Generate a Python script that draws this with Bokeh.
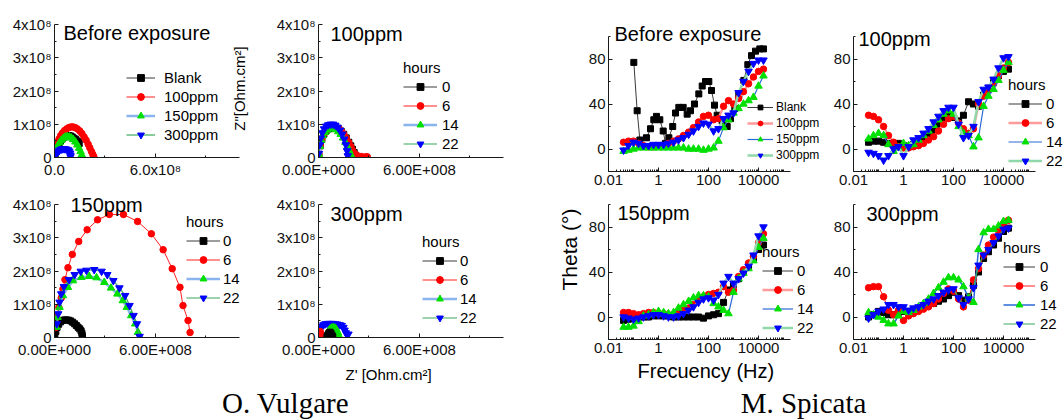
import numpy as np
from bokeh.plotting import figure
from bokeh.layouts import row, column
from bokeh.models import (FixedTicker, Legend, LegendItem, Label, Range1d, Title,
                          CustomJSTickFormatter)
from bokeh.embed import file_html
from bokeh.resources import INLINE
from bokeh.core.properties import value

FONT = "Liberation Sans"
SERIF = "Liberation Serif"

# ---------------- labels / ticks ----------------
CONC = ["Blank", "100ppm", "150ppm", "300ppm"]
HOURS = ["0", "6", "14", "22"]
CAPTIONS = ["O. Vulgare", "M. Spicata"]
NYQ_Y_TICKS = [0, 1e8, 2e8, 3e8, 4e8]
NYQ_Y_LABELS = ["0", "1x10\u2078", "2x10\u2078", "3x10\u2078", "4x10\u2078"]
NYQ_X_TICKS = [0, 6e8]
NYQ_X_LABELS_A = ["0.0", "6.0x10\u2078"]
NYQ_X_LABELS = ["0.00E+000", "6.00E+008"]
BODE_X_TICKS = [0.01, 1, 100, 10000]
BODE_X_LABELS = ["0.01", "1", "100", "10000"]
BODE_Y_TICKS = [0, 40, 80]

# ---------------- Nyquist data (units of 1e8 Ohm.cm2) ----------------
A_BLANK_ZR = [0.02, 0.05, 0.10, 0.15, 0.20, 0.27, 0.35, 0.45, 0.55, 0.65, 0.75, 0.85, 0.95, 1.05, 1.15, 1.25, 1.35, 1.42, 1.47]
A_BLANK_ZI = [0.05, 0.12, 0.20, 0.28, 0.35, 0.42, 0.50, 0.56, 0.60, 0.63, 0.65, 0.66, 0.65, 0.62, 0.58, 0.55, 0.50, 0.46, 0.42]
A_100_ZR = [0.00, 0.05, 0.10, 0.18, 0.27, 0.37, 0.48, 0.60, 0.72, 0.85, 0.98, 1.10, 1.23, 1.36, 1.50, 1.63, 1.76, 1.88, 2.00, 2.10, 2.20, 2.28, 2.34]
A_100_ZI = [0.15, 0.25, 0.35, 0.46, 0.56, 0.66, 0.74, 0.81, 0.86, 0.90, 0.92, 0.92, 0.90, 0.86, 0.80, 0.72, 0.62, 0.52, 0.40, 0.29, 0.18, 0.09, 0.02]
A_150_ZR = [0.02, 0.06, 0.12, 0.20, 0.30, 0.40, 0.52, 0.64, 0.76, 0.88, 1.00, 1.12, 1.24, 1.36, 1.46, 1.55, 1.62, 1.65]
A_150_ZI = [0.06, 0.16, 0.26, 0.36, 0.45, 0.52, 0.58, 0.62, 0.63, 0.62, 0.59, 0.54, 0.47, 0.38, 0.28, 0.18, 0.08, 0.01]
A_300_ZR = [0.03, 0.08, 0.15, 0.22, 0.30, 0.40, 0.50, 0.60, 0.70, 0.80, 0.88, 0.93, 0.95, 0.95]
A_300_ZI = [0.03, 0.09, 0.14, 0.18, 0.22, 0.25, 0.26, 0.26, 0.25, 0.23, 0.19, 0.13, 0.07, 0.02]

B_0_ZR = [0.02, 0.10, 0.20, 0.32, 0.45, 0.60, 0.75, 0.90, 1.05, 1.20, 1.35, 1.50, 1.65, 1.80, 1.92, 2.02, 2.12, 2.20, 2.26]
B_0_ZI = [0.10, 0.35, 0.55, 0.70, 0.80, 0.86, 0.89, 0.90, 0.89, 0.85, 0.79, 0.70, 0.59, 0.46, 0.35, 0.25, 0.15, 0.07, 0.02]
B_6_ZR = [0.02, 0.10, 0.20, 0.32, 0.45, 0.60, 0.75, 0.90, 1.05, 1.20, 1.35, 1.50, 1.65, 1.80, 1.92, 2.02, 2.15, 2.30, 2.55, 2.80, 2.90]
B_6_ZI = [0.10, 0.36, 0.56, 0.72, 0.82, 0.88, 0.91, 0.92, 0.91, 0.87, 0.80, 0.70, 0.58, 0.45, 0.33, 0.22, 0.12, 0.06, 0.03, 0.02, 0.02]
B_14_ZR = [0.02, 0.08, 0.16, 0.26, 0.38, 0.50, 0.63, 0.76, 0.90, 1.04, 1.18, 1.32, 1.46, 1.60, 1.72, 1.83, 1.92, 1.96]
B_14_ZI = [0.10, 0.34, 0.52, 0.66, 0.76, 0.83, 0.87, 0.88, 0.87, 0.84, 0.78, 0.70, 0.59, 0.46, 0.33, 0.20, 0.09, 0.02]
B_22_ZR = [0.02, 0.07, 0.14, 0.23, 0.33, 0.45, 0.58, 0.72, 0.86, 1.00, 1.14, 1.28, 1.41, 1.53, 1.63, 1.70, 1.74]
B_22_ZI = [0.12, 0.38, 0.58, 0.74, 0.86, 0.94, 0.98, 1.00, 1.00, 0.97, 0.91, 0.82, 0.70, 0.55, 0.38, 0.20, 0.05]

C_0_ZR = [0.02, 0.08, 0.15, 0.25, 0.36, 0.48, 0.60, 0.72, 0.84, 0.96, 1.08, 1.20, 1.30, 1.40, 1.50, 1.58, 1.63, 1.65, 1.66]
C_0_ZI = [0.05, 0.18, 0.30, 0.40, 0.47, 0.51, 0.53, 0.53, 0.52, 0.50, 0.46, 0.41, 0.36, 0.31, 0.26, 0.20, 0.13, 0.06, 0.01]
C_6_ZR = [0.06, 0.14, 0.26, 0.40, 0.50, 0.62, 0.80, 1.06, 1.44, 1.94, 2.56, 3.26, 4.10, 4.94, 5.76, 6.46, 7.00, 7.46, 7.64, 7.94, 8.06]
C_6_ZI = [0.30, 0.61, 0.91, 1.19, 1.46, 1.74, 2.10, 2.50, 2.89, 3.24, 3.54, 3.70, 3.70, 3.49, 3.12, 2.64, 2.07, 1.51, 0.96, 0.51, 0.15]
C_14_ZR = [0.10, 0.18, 0.30, 0.50, 0.80, 1.10, 1.60, 2.06, 2.50, 2.96, 3.36, 3.74, 4.06, 4.30, 4.56, 4.80, 4.96, 5.06]
C_14_ZI = [0.31, 0.61, 0.91, 1.26, 1.51, 1.71, 1.81, 1.84, 1.80, 1.66, 1.49, 1.31, 1.11, 0.91, 0.66, 0.41, 0.16, 0.01]
C_22_ZR = [0.14, 0.22, 0.30, 0.40, 0.56, 0.86, 1.20, 1.56, 1.90, 2.36, 2.80, 3.14, 3.50, 3.86, 4.20, 4.46, 4.70, 4.90, 5.06]
C_22_ZI = [0.41, 0.71, 1.06, 1.31, 1.53, 1.74, 1.89, 1.99, 2.02, 2.04, 1.99, 1.89, 1.71, 1.49, 1.26, 0.96, 0.66, 0.41, 0.03]

D_0_ZR = [0.50, 0.56, 0.62, 0.68, 0.74, 0.80, 0.85]
D_0_ZI = [0.02, 0.08, 0.13, 0.16, 0.13, 0.07, 0.02]
D_6_ZR = [0.00, 0.03, 0.06, 0.10, 0.14, 0.18]
D_6_ZI = [0.02, 0.10, 0.16, 0.18, 0.12, 0.03]
D_14_ZR = [0.40, 0.50, 0.60, 0.70, 0.80, 0.90, 1.00, 1.08, 1.15, 1.20, 1.23]
D_14_ZI = [0.02, 0.12, 0.20, 0.26, 0.29, 0.30, 0.28, 0.22, 0.15, 0.07, 0.01]
D_22_ZR = [0.02, 0.06, 0.12, 0.20, 0.30, 0.42, 0.56, 0.70, 0.84, 0.98, 1.12, 1.26, 1.38, 1.48, 1.55, 1.62, 1.70, 1.78]
D_22_ZI = [0.08, 0.20, 0.28, 0.34, 0.38, 0.41, 0.42, 0.42, 0.42, 0.41, 0.40, 0.38, 0.36, 0.30, 0.22, 0.14, 0.08, 0.10]

# ---------------- Bode data (theta, degrees) ----------------
FREQ = [0.04, 0.063, 0.1, 0.16, 0.25, 0.4, 0.63, 1, 1.6, 2.5, 4, 6.3, 10, 16, 25, 40, 63, 100,
        160, 250, 400, 630, 1000, 1600, 2500, 4000, 6300, 10000, 15800]
E_BLANK_F = [0.103, 0.14, 0.18, 0.33, 0.48, 0.65, 0.83, 1.13, 1.54, 1.9, 2.6, 3.7, 4.8, 6.5, 9.7, 14, 19,
             27.5, 41, 56, 76, 103, 132, 174, 222, 352, 558, 759, 1130, 1630, 2590, 3740, 5250, 7590, 11300, 15800]
E_BLANK = [77, 34, 8, 10, 18, 26, 29, 26, 16, 5, 10, 20, 32, 37, 37, 31, 34, 40, 49, 56, 60, 60, 52, 39,
           30, 25, 20, 27, 36, 48, 61, 75, 83, 87, 89, 89]
E_100 = [6, 7, 7, 5, 3, 2, 2, 3, 3, 5, 7, 9, 12, 15, 19, 24, 29, 30, 26, 27, 38, 43, 40, 45, 51, 58, 64, 69, 71]
E_150 = [-2, -1, 0, 1, 1, 1, 1, 1, 1, 1, 1, 1, 1, 0, 0, 0, -1, 0, 1, 7, 19, 26, 32, 36, 40, 43, 46, 56, 65]
E_300 = [-1, 3, 6, 5, 3, 3, 4, 4, 4, 5, 6, 8, 10, 13, 16, 20, 23, 22, 16, 18, 27, 30, 32, 50, 60, 69, 76, 79, 79]

F_0 = [6, 7, 7, 6, 5, 5, 5, 3, 2, 4, 6, 9, 12, 16, 21, 26, 29, 28, 25, 30, 42, 40, 38, 48, 54, 59, 65, 69, 71]
F_6 = [30, 29, 26, 20, 12, 6, 2, 1, 1, 2, 3, 5, 8, 11, 16, 22, 27, 29, 23, 18, 14, 18, 40, 47, 52, 58, 65, 72, 77]
F_14 = [9, 12, 14, 12, 4, -2, 1, 5, 3, 4, 8, 12, 16, 21, 26, 31, 34, 31, 20, 14, 12, 2, 10, 38, 47, 53, 61, 70, 77]
F_22 = [-3, -4, -6, -10, -6, 0, 2, -6, 2, 8, 10, 14, 18, 24, 29, 34, 37, 37, 22, 10, 12, 20, 42, 53, 55, 62, 72, 81, 82]

G_0 = [-3, -2, -1, 0, 0, 0, 1, 1, 1, 1, 0, 0, 0, 0, 0, 0, -1, 1, 2, 3, 13, 24, 29, 34, 40, 45, 52, 60, 64]
G_6 = [4, 4, 3, 2, 3, 4, 4, 3, 3, 2, 2, 4, 6, 8, 11, 15, 18, 20, 21, 22, 27, 22, 24, 36, 42, 48, 54, 66, 74]
G_14 = [-9, -9, -8, -4, 1, 2, 4, 5, 4, 3, 4, 8, 11, 14, 17, 19, 19, 18, 12, 9, 6, 3, 22, 34, 39, 43, 50, 62, 70]
G_22 = [0, -1, -2, -1, 0, 1, 2, 2, 1, 0, 0, 1, 3, 6, 9, 13, 16, 17, 15, 20, 30, 36, 30, 34, 39, 45, 55, 72, 80]

H_0 = [0, 2, 5, 4, 2, 2, 4, 5, 5, 6, 7, 9, 11, 12, 14, 16, 19, 22, 19, 15, 18, 28, 40, 52, 58, 64, 70, 76, 79]
H_6 = [26, 27, 27, 18, 6, 2, 6, -3, 1, 3, 5, 7, 9, 12, 16, 21, 25, 23, 16, 9, 15, 33, 43, 55, 64, 71, 77, 83, 86]
H_14 = [4, 2, 0, -3, -6, -6, 1, 5, 4, 6, 9, 12, 16, 21, 26, 31, 35, 35, 33, 27, 17, 13, 60, 75, 78, 78, 81, 85, 86]
H_22 = [-1, 2, 5, 7, 11, 11, 9, 9, 6, 8, 9, 11, 14, 16, 19, 22, 24, 25, 17, 11, 16, 26, 46, 55, 60, 66, 72, 78, 79]

# ---------------- styles ----------------
MARKERS = ["square", "circle", "triangle", "inverted_triangle"]
MCOLORS = ["#000000", "#ff0000", "#00e000", "#0000ff"]
MSIZES = [6, 6.5, 7.5, 7.5]
NYQ_LINE = [("#3a3a3a", 1.0), ("#ff2020", 1.0), ("#8ab4ee", 2.5), ("#3aa860", 1.2)]
BODE_LINE = [("#3a3a3a", 1.0), ("#ff9a9a", 2.5), ("#2a6ad6", 1.2), ("#90d8aa", 2.5)]
BODE_LINE_H = [("#3a3a3a", 1.0), ("#ff2020", 1.0), ("#2a6ad6", 1.5), ("#3aa860", 1.2)]

NYQ_XMAX = 11e8      # end of the drawn Z' axis
NYQ_YMAX = 4e8       # end of the drawn Z'' axis
NYQ_PX_X = 185.0     # px for NYQ_XMAX
NYQ_PX_Y = 133.0     # px for NYQ_YMAX
BODE_PX_DEC = 25.0   # px per decade
BODE_PX_DEG = 1.125  # px per degree


def fmt(ticks, labels):
    return CustomJSTickFormatter(args=dict(t=list(ticks), l=list(labels)),
                                 code="const i = t.indexOf(tick); return i < 0 ? '' : l[i];")


def style_axes(p, standoff):
    for ax in p.axis:
        ax.axis_line_color = "#1a1a1a"
        ax.axis_line_width = 1
        ax.major_tick_line_color = "#1a1a1a"
        ax.minor_tick_line_color = "#1a1a1a"
        ax.major_tick_in = 4
        ax.major_tick_out = 0
        ax.minor_tick_in = 2
        ax.minor_tick_out = 0
        ax.major_label_text_font = FONT
        ax.major_label_text_font_size = "15px"
        ax.major_label_text_color = "#111111"
        ax.major_label_standoff = standoff


def make_fig(w, h, l, b, xr, yr, log=False):
    p = figure(width=w, height=h, min_border_left=l, min_border_right=0,
               min_border_top=0, min_border_bottom=b,
               x_axis_type="log" if log else "linear",
               x_range=Range1d(*xr), y_range=Range1d(*yr),
               toolbar_location=None, output_backend="svg")
    p.title.visible = False
    p.outline_line_color = None
    p.xgrid.visible = False
    p.ygrid.visible = False
    p.background_fill_color = "white"
    p.border_fill_color = "white"
    return p


def nyq_fig(w, h, l, b, xlabels):
    fw, fh = w - l, h - b
    p = make_fig(w, h, l, b, (0, NYQ_XMAX * fw / NYQ_PX_X), (0, NYQ_YMAX * fh / NYQ_PX_Y))
    p.xaxis.bounds = (0, NYQ_XMAX)
    p.yaxis.bounds = (0, NYQ_YMAX)
    p.xaxis.ticker = FixedTicker(ticks=NYQ_X_TICKS, minor_ticks=[3e8, 9e8])
    p.yaxis.ticker = FixedTicker(ticks=NYQ_Y_TICKS, minor_ticks=[0.5e8, 1.5e8, 2.5e8, 3.5e8])
    p.xaxis.formatter = fmt(NYQ_X_TICKS, xlabels)
    p.yaxis.formatter = fmt(NYQ_Y_TICKS, NYQ_Y_LABELS)
    style_axes(p, 3)
    return p


LOG_MINOR = [m * 10.0 ** k for k in range(-2, 6) for m in range(1, 10)
             if m * 10.0 ** k not in BODE_X_TICKS and m * 10.0 ** k < 1.9e5]


def bode_fig(w, h, l, b):
    fw, fh = w - l, h - b
    p = make_fig(w, h, l, b, (0.01, 10 ** (-2 + fw / BODE_PX_DEC)),
                 (-20, -20 + fh / BODE_PX_DEG), log=True)
    p.xaxis.bounds = (0.01, 1.9e5)
    p.yaxis.bounds = (-20, 100)
    p.xaxis.ticker = FixedTicker(ticks=BODE_X_TICKS, minor_ticks=LOG_MINOR)
    p.yaxis.ticker = FixedTicker(ticks=BODE_Y_TICKS, minor_ticks=[-20, 20, 60, 100])
    p.xaxis.formatter = fmt(BODE_X_TICKS, BODE_X_LABELS)
    p.yaxis.formatter = fmt(BODE_Y_TICKS, ["0", "40", "80"])
    style_axes(p, 3)
    return p


def series(p, x, y, k, lines):
    lc, lw = lines[k]
    lr = p.line(x, y, line_color=lc, line_width=lw)
    sr = p.scatter(x, y, marker=MARKERS[k], size=MSIZES[k],
                   fill_color=MCOLORS[k], line_color=MCOLORS[k])
    return [lr, sr]


def add_legend(p, labels, groups, loc, title=None, fs=15, gw=34, gh=17,
               standoff=5, spacing=2):
    items = [LegendItem(label=lab, renderers=g) for lab, g in zip(labels, groups)]
    leg = Legend(items=items, location=loc, orientation="vertical",
                 background_fill_alpha=0, border_line_color=None,
                 padding=0, margin=0, spacing=spacing,
                 glyph_width=gw, glyph_height=gh, label_height=gh,
                 label_standoff=standoff, label_text_font=FONT,
                 label_text_font_size=f"{fs}px", label_text_color="#000000")
    if title:
        leg.title = title
        leg.title_text_font = FONT
        leg.title_text_font_size = f"{fs}px"
        leg.title_text_font_style = "normal"
        leg.title_text_color = "#000000"
        leg.title_standoff = 2
    p.add_layout(leg)


def add_label(p, text, x, y, size, angle=0.0, align="left"):
    p.add_layout(Label(x=x, y=y, x_units="screen", y_units="screen", text=text,
                       angle=angle, text_align=align, text_baseline="middle",
                       text_font=FONT, text_font_size=f"{size}px",
                       text_color="#000000"))


def add_side_title(p, text, side, offset, size, standoff):
    p.add_layout(Title(text=text, align="left", offset=offset, standoff=standoff,
                       text_font=FONT, text_font_size=f"{size}px",
                       text_font_style="normal", text_color="#000000"), side)


def s8(v):
    return np.array(v) * 1e8


# ---------------- Panel A : O. Vulgare, before exposure ----------------
pA = nyq_fig(258, 194, 54, 37, NYQ_X_LABELS_A)
gA = [series(pA, s8(A_BLANK_ZR), s8(A_BLANK_ZI), 0, NYQ_LINE),
      series(pA, s8(A_100_ZR), s8(A_100_ZI), 1, NYQ_LINE),
      series(pA, s8(A_150_ZR), s8(A_150_ZI), 2, NYQ_LINE),
      series(pA, s8(A_300_ZR), s8(A_300_ZI), 3, NYQ_LINE)]
add_legend(pA, CONC, gA, (72, 14.5), gw=29, standoff=9)
add_label(pA, "Before exposure", 9, 125, 20)
add_label(pA, 'Z"[Ohm.cm\u00b2]', 185, 69, 15, angle=np.pi / 2, align="center")

# ---------------- Panel B : 100ppm ----------------
pB = nyq_fig(282, 194, 60, 37, NYQ_X_LABELS)
gB = [series(pB, s8(B_0_ZR), s8(B_0_ZI), 0, NYQ_LINE),
      series(pB, s8(B_6_ZR), s8(B_6_ZI), 1, NYQ_LINE),
      series(pB, s8(B_14_ZR), s8(B_14_ZI), 2, NYQ_LINE),
      series(pB, s8(B_22_ZR), s8(B_22_ZI), 3, NYQ_LINE)]
add_legend(pB, HOURS, gB, (85, 5.5), title="hours", gw=34, standoff=5)
add_label(pB, "100ppm", 12, 124, 20)

# ---------------- Panel C : 150ppm ----------------
pC = nyq_fig(258, 191, 54, 48, NYQ_X_LABELS)
gC = [series(pC, s8(C_0_ZR), s8(C_0_ZI), 0, NYQ_LINE),
      series(pC, s8(C_6_ZR), s8(C_6_ZI), 1, NYQ_LINE),
      series(pC, s8(C_14_ZR), s8(C_14_ZI), 2, NYQ_LINE),
      series(pC, s8(C_22_ZR), s8(C_22_ZI), 3, NYQ_LINE)]
add_legend(pC, HOURS, gC, (132, 31.5), title="hours", gw=34, standoff=3)
add_label(pC, "150ppm", 16, 133, 20)

# ---------------- Panel D : 300ppm ----------------
pD = nyq_fig(282, 191, 60, 48, NYQ_X_LABELS)
gD22 = series(pD, s8(D_22_ZR), s8(D_22_ZI), 3, NYQ_LINE)
gD14 = series(pD, s8(D_14_ZR), s8(D_14_ZI), 2, NYQ_LINE)
gD6 = series(pD, s8(D_6_ZR), s8(D_6_ZI), 1, NYQ_LINE)
gD0 = series(pD, s8(D_0_ZR), s8(D_0_ZI), 0, NYQ_LINE)
add_legend(pD, HOURS, [gD0, gD6, gD14, gD22], (104, 11.5), title="hours", gw=35, standoff=3)
add_label(pD, "300ppm", 12, 124, 20)
add_side_title(pD, "Z' [Ohm.cm\u00b2]", "below", 27, 15, 6)

# ---------------- Panel E : M. Spicata, before exposure ----------------
pE = bode_fig(285, 194, 68, 23)
gE = [series(pE, E_BLANK_F, E_BLANK, 0, BODE_LINE),
      series(pE, FREQ, E_100, 1, BODE_LINE),
      series(pE, FREQ, E_150, 2, BODE_LINE),
      series(pE, FREQ, E_300, 3, BODE_LINE)]
add_legend(pE, CONC, gE, (139, 9), fs=12, gw=26, gh=12, standoff=3, spacing=2)
add_label(pE, "Before exposure", 6, 138, 20)

# ---------------- Panel F : 100ppm ----------------
pF = bode_fig(238, 194, 28, 23)
gF = [series(pF, FREQ, F_0, 0, BODE_LINE),
      series(pF, FREQ, F_6, 1, BODE_LINE),
      series(pF, FREQ, F_14, 2, BODE_LINE),
      series(pF, FREQ, F_22, 3, BODE_LINE)]
add_legend(pF, HOURS, gF, (155, 2.5), title="hours", gw=34, standoff=4)
add_label(pF, "100ppm", 5, 133, 20)

# ---------------- Panel G : 150ppm ----------------
pG = bode_fig(285, 191, 68, 46)
gG = [series(pG, FREQ, G_0, 0, BODE_LINE),
      series(pG, FREQ, G_6, 1, BODE_LINE),
      series(pG, FREQ, G_14, 2, BODE_LINE),
      series(pG, FREQ, G_22, 3, BODE_LINE)]
add_legend(pG, HOURS, gG, (154, 3.5), title="hours", gw=31, standoff=4)
add_label(pG, "150ppm", 9, 127, 20)
add_side_title(pG, "Theta (\u00b0)", "left", 49, 21, 10)
add_side_title(pG, "Frecuency (Hz)", "below", 29, 20, 5)

# ---------------- Panel H : 300ppm ----------------
pH = bode_fig(238, 191, 28, 46)
gH = [series(pH, FREQ, H_0, 0, BODE_LINE_H),
      series(pH, FREQ, H_6, 1, BODE_LINE_H),
      series(pH, FREQ, H_14, 2, BODE_LINE_H),
      series(pH, FREQ, H_22, 3, BODE_LINE_H)]
add_legend(pH, HOURS, gH, (150, 7.5), title="hours", gw=32, standoff=5)
add_label(pH, "300ppm", 13, 126, 20)

# ---------------- captions ----------------
CAPTION_X = [285, 803]
cap = figure(width=1063, height=34, x_range=Range1d(0, 1063), y_range=Range1d(0, 34),
             x_axis_location=None, y_axis_location=None, toolbar_location=None,
             output_backend="svg", min_border=0)
cap.title.visible = False
cap.outline_line_color = None
cap.xgrid.visible = False
cap.ygrid.visible = False
cap.text(x=CAPTION_X, y=[17, 17], text=CAPTIONS, text_font=value(SERIF),
         text_font_size="29px", text_align="center", text_baseline="middle",
         text_color="#000000")

grid = row(column(pA, pC), column(pB, pD), column(pE, pG), column(pF, pH))
layout = column(grid, cap)
open("out.html", "w").write(file_html(layout, INLINE))
